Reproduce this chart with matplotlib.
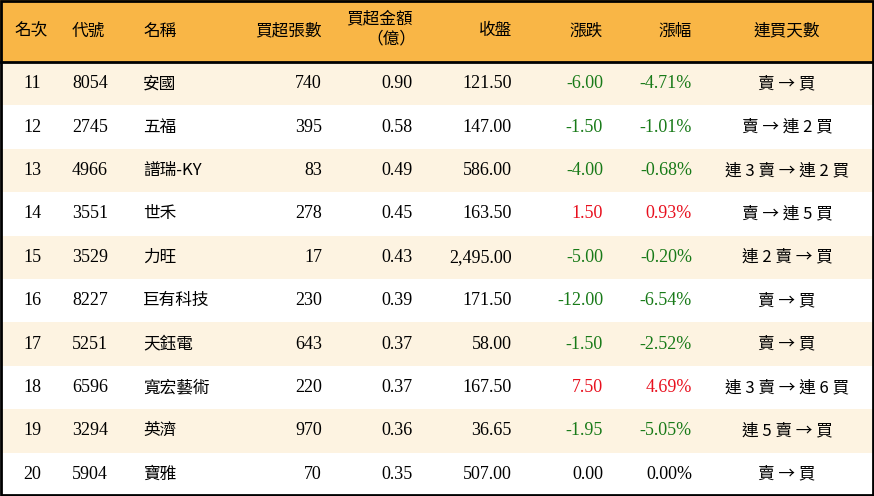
import matplotlib
matplotlib.use("Agg")
import matplotlib.pyplot as plt
from matplotlib.patches import Rectangle

headers = ["名次", "代號", "名稱", "買超張數", "買超金額\n（億）", "收盤", "漲跌", "漲幅", "連買天數"]
ranks = ["11", "12", "13", "14", "15", "16", "17", "18", "19", "20"]
codes = ["8054", "2745", "4966", "3551", "3529", "8227", "5251", "6596", "3294", "5904"]
names = ["安國", "五福", "譜瑞-KY", "世禾", "力旺", "巨有科技", "天鈺電", "寬宏藝術", "英濟", "寶雅"]
net_lots = [740, 395, 83, 278, 17, 230, 643, 220, 970, 70]
net_amount = [0.90, 0.58, 0.49, 0.45, 0.43, 0.39, 0.37, 0.37, 0.36, 0.35]
close = [121.50, 147.00, 586.00, 163.50, 2495.00, 171.50, 58.00, 167.50, 36.65, 507.00]
change = [-6.00, -1.50, -4.00, 1.50, -5.00, -12.00, -1.50, 7.50, -1.95, 0.00]
pct = [-4.71, -1.01, -0.68, 0.93, -0.20, -6.54, -2.52, 4.69, -5.05, 0.00]
streak = ["賣 → 買", "賣 → 連 2 買", "連 3 賣 → 連 2 買", "賣 → 連 5 買", "連 2 賣 → 買",
          "賣 → 買", "賣 → 買", "連 3 賣 → 連 6 買", "連 5 賣 → 買", "賣 → 買"]

W, H = 874, 496
HEAD = 62
ROW = (H - HEAD) / len(ranks)
cjk = "Noto Sans CJK TC"
num = "Liberation Serif"

fig = plt.figure(figsize=(W / 100, H / 100), dpi=100)
ax = fig.add_axes([0, 0, 1, 1])
ax.set_xlim(0, W)
ax.set_ylim(H, 0)
ax.axis("off")

ax.add_patch(Rectangle((0, 0), W, HEAD, color="#F9B646", lw=0))
for i in range(len(ranks)):
    c = "#FDF3E1" if i % 2 == 0 else "white"
    ax.add_patch(Rectangle((0, HEAD + i * ROW), W, ROW, color=c, lw=0))
ax.plot([0, W], [HEAD, HEAD], color="black", lw=2)
ax.add_patch(Rectangle((1, 1), W - 2, H - 2, fill=False, ec="black", lw=2))

# (x, ha) per column
cols = [(14, "left"), (72, "left"), (143, "left"), (322, "right"), (413, "right"),
        (512, "right"), (603, "right"), (692, "right"), (787, "center")]

for (x, ha), h in zip(cols, headers):
    if "\n" in h:
        top, bot = h.split("\n")
        ax.text(x, HEAD / 2 - 12, top, ha=ha, va="center", fontsize=12, fontfamily=cjk)
        ax.text(x - 22, HEAD / 2 + 8, bot, ha="center", va="center", fontsize=12, fontfamily=cjk)
    else:
        ax.text(x, HEAD / 2, h, ha=ha, va="center", fontsize=12, fontfamily=cjk)

def color_of(v):
    if v > 0:
        return "#E8101E"
    if v < 0:
        return "#187A18"
    return "black"

for i in range(len(ranks)):
    y = HEAD + (i + 0.5) * ROW
    vals = [(ranks[i], num, "black"), (codes[i], num, "black"), (names[i], cjk, "black"),
            (f"{net_lots[i]:,}", num, "black"), (f"{net_amount[i]:.2f}", num, "black"),
            (f"{close[i]:,.2f}", num, "black"), (f"{change[i]:.2f}", num, color_of(change[i])),
            (f"{pct[i]:.2f}%", num, color_of(pct[i])), (streak[i], cjk, "black")]
    for j, ((x, ha), (t, f, c)) in enumerate(zip(cols, vals)):
        if j == 0:
            x, ha = 32, "center"
        ax.text(x, y, t, ha=ha, va="center", fontsize=13 if f == num else 12,
                fontfamily=f, color=c)

fig.savefig("out.png", dpi=100)
